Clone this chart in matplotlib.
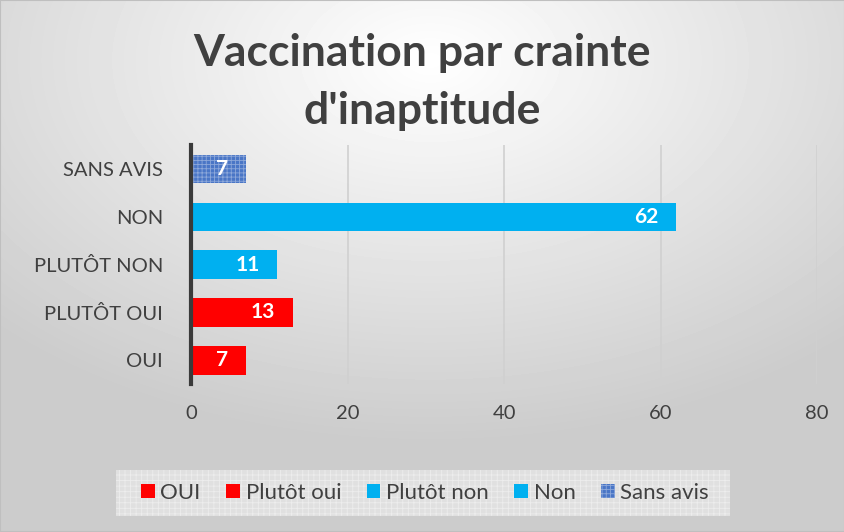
import numpy as np
import matplotlib
matplotlib.use('Agg')
import matplotlib.pyplot as plt
from matplotlib.patches import Rectangle

# Data
categories = ['OUI', 'PLUTÔT OUI', 'PLUTÔT NON', 'NON', 'SANS AVIS']
legend_labels = ['OUI', 'Plutôt oui', 'Plutôt non', 'Non', 'Sans avis']
values = [7, 13, 11, 62, 7]
colors = ['#FF0000', '#FF0000', '#00B0F0', '#00B0F0', '#4A76C6']
x_ticks = [0, 20, 40, 60, 80]

plt.rcParams['font.family'] = ['Lato', 'DejaVu Sans']
plt.rcParams['hatch.linewidth'] = 0.6
text_col = '#404040'

fig = plt.figure(figsize=(8.45, 5.32), dpi=100)

# radial grey background
bg = fig.add_axes([0, 0, 1, 1], zorder=-10)
yy, xx = np.mgrid[0:532, 0:845]
d = np.sqrt(((xx - 430) / 845.0) ** 2 + ((yy - 60) / 532.0) ** 2)
shade = np.clip(1.0 - 0.28 * d, 0.80, 1.0)
bg.imshow(shade, cmap='gray', vmin=0, vmax=1, aspect='auto', extent=[0, 1, 0, 1])
bg.set_axis_off()
fig.patches.append(Rectangle((0, 0), 1, 1, transform=fig.transFigure,
                             fill=False, edgecolor='#BFBFBF', linewidth=1.5))

ax = fig.add_axes([0.226, 0.278, 0.741, 0.449])
ax.patch.set_alpha(0)

ypos = np.arange(len(categories))
bars = ax.barh(ypos, values, height=0.6, color=colors, linewidth=0, zorder=3)
for b, lab in zip(bars, legend_labels):
    b.set_label(lab)
# dotted pattern on "Sans avis"
bars[4].set_hatch('++++')
bars[4].set_edgecolor('#8DA8DA')
bars[4].set_linewidth(0)

for b, v in zip(bars, values):
    ax.annotate(str(v), (v, b.get_y() + b.get_height() / 2),
                xytext=(-12.5, 0), textcoords='offset points',
                ha='right', va='center', color='white',
                fontsize=15, fontweight='bold', zorder=5)

ax.set_xlim(0, 80)
ax.set_ylim(-0.5, len(categories) - 0.5)
ax.set_xticks(x_ticks)
ax.set_yticks(ypos)
ax.set_yticklabels(categories)
ax.tick_params(axis='both', length=0, labelsize=14.5, colors=text_col)
ax.tick_params(axis='y', pad=20)
ax.tick_params(axis='x', pad=15)
ax.grid(axis='x', color='#D0D0D0', linewidth=1.2, zorder=0)
for s in ['top', 'right', 'bottom']:
    ax.spines[s].set_visible(False)
ax.spines['left'].set_color('#3A3A3A')
ax.spines['left'].set_linewidth(3)
ax.spines['left'].set_zorder(4)

fig.text(0.5, 0.846, "Vaccination par crainte\nd'inaptitude", ha='center', va='center',
         fontsize=32, fontweight='bold', color=text_col, linespacing=1.53)

# legend box with light pattern
fig.patches.append(Rectangle((116 / 845, 1 - 516 / 532), 614 / 845, 46 / 532,
                             transform=fig.transFigure, facecolor='#E0E0E0',
                             edgecolor='#EDEDED', hatch='+++', linewidth=0, zorder=1))
leg = fig.legend(handles=list(bars), labels=legend_labels, loc='center',
                 bbox_to_anchor=(0.503, 1 - 493 / 532), ncol=5, frameon=False,
                 fontsize=16, handlelength=0.62, handleheight=0.62,
                 handletextpad=0.25, columnspacing=1.15, labelcolor=text_col)

fig.savefig('out.png', dpi=100)
